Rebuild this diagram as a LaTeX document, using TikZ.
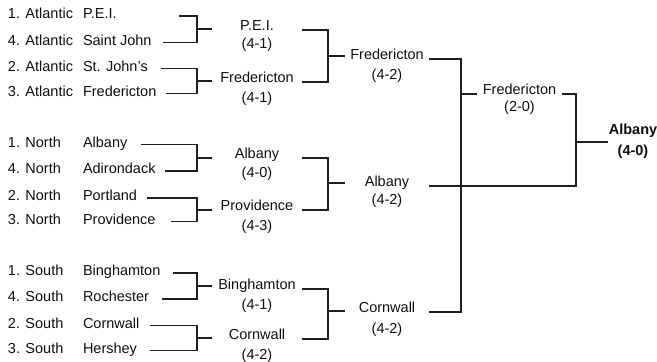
\documentclass[tikz,border=0pt]{standalone}
\usepackage{fontspec}
\setmainfont{Liberation Sans}
\definecolor{LineClr}{RGB}{30,30,30}
\definecolor{TextClr}{RGB}{15,15,15}

\begin{document}
\begin{tikzpicture}[x=1pt,y=-1pt,
  every node/.style={inner sep=0pt,outer sep=0pt,text=TextClr,font=\fontsize{14.5}{17}\selectfont},
  seed/.style={anchor=mid west},
  team/.style={anchor=mid west},
  win/.style={anchor=base,minimum width=#1},
  score/.style={anchor=base},
  bracket/.style={line width=1.2pt,color=LineClr}]
\useasboundingbox (0,0) rectangle (657,362);

% seeds
\node[seed] (sa1) at (8,16) {1. Atlantic};
\node[seed] (sa4) at (8,42.5) {4. Atlantic};
\node[seed] (sa2) at (8,68.5) {2. Atlantic};
\node[seed] (sa3) at (8,93.5) {3. Atlantic};
\node[seed] (sn1) at (8,144.5) {1. North};
\node[seed] (sn4) at (8,171) {4. North};
\node[seed] (sn2) at (8,198) {2. North};
\node[seed] (sn3) at (8,221.5) {3. North};
\node[seed] (ss1) at (8,273) {1. South};
\node[seed] (ss4) at (8,299) {4. South};
\node[seed] (ss2) at (8,325.5) {2. South};
\node[seed] (ss3) at (8,350.5) {3. South};

% teams
\node[team] (a1) at (83,16) {P.E.I.};
\node[team] (a4) at (83,42.5) {Saint John};
\node[team] (a2) at (83,68.5) {St. John’s};
\node[team] (a3) at (83,93.5) {Fredericton};
\node[team] (n1) at (83,144.5) {Albany};
\node[team] (n4) at (83,171) {Adirondack};
\node[team] (n2) at (83,198) {Portland};
\node[team] (n3) at (83,221.5) {Providence};
\node[team] (s1) at (83,273) {Binghamton};
\node[team] (s4) at (83,299) {Rochester};
\node[team] (s2) at (83,325.5) {Cornwall};
\node[team] (s3) at (83,350.5) {Hershey};

% division semifinals
\node[win=90] (w1) at (257,30) {P.E.I.};
\node[score] (w1s) at (257,48) {(4-1)};
\node[win=90] (w2) at (257,82) {Fredericton};
\node[score] (w2s) at (257,102) {(4-1)};
\node[win=90] (w3) at (257,158) {Albany};
\node[score] (w3s) at (257,177) {(4-0)};
\node[win=90] (w4) at (257,210) {Providence};
\node[score] (w4s) at (257,230) {(4-3)};
\node[win=90] (w5) at (257,289) {Binghamton};
\node[score] (w5s) at (257,309) {(4-1)};
\node[win=90] (w6) at (257,339) {Cornwall};
\node[score] (w6s) at (257,359) {(4-2)};

% division finals
\node[win=84] (v1) at (387,59) {Fredericton};
\node[score] (v1s) at (387,79) {(4-2)};
\node[win=84] (v2) at (387,186) {Albany};
\node[score] (v2s) at (387,204) {(4-2)};
\node[win=84] (v3) at (387,312) {Cornwall};
\node[score] (v3s) at (387,333) {(4-2)};

% semifinal
\node[win=85] (u1) at (519.5,94) {Fredericton};
\node[score] (u1s) at (519.5,111) {(2-0)};

% final
\node[win=50,font=\fontsize{14.5}{17}\selectfont\bfseries] (fin) at (633,134) {Albany};
\node[score,font=\fontsize{14.5}{17}\selectfont\bfseries] (fins) at (633,155) {(4-0)};

\coordinate (j1) at (197,29);
\coordinate (j2) at (197,81);
\coordinate (j3) at (197,158);
\coordinate (j4) at (197,210);
\coordinate (j5) at (197,286);
\coordinate (j6) at (197,338);
\coordinate (k1) at (328,56);
\coordinate (k2) at (328,183);
\coordinate (k3) at (328,311);
\coordinate (m1) at (461,94);
\coordinate (f1) at (576,142);

% round 1
\draw[bracket,shorten <=62pt,shorten >=11pt] (a1.mid east) -| (j1) |- (a4.mid east);
\draw[bracket,shorten <=13pt,shorten >=10pt] (a2.mid east) -| (j2) |- (a3.mid east);
\draw[bracket,shorten <=14pt,shorten >=9pt] (n1.mid east) -| (j3) |- (n4.mid east);
\draw[bracket,shorten <=10pt,shorten >=15pt] (n2.mid east) -| (j4) |- (n3.mid east);
\draw[bracket,shorten <=13pt,shorten >=13pt] (s1.mid east) -| (j5) |- (s4.mid east);
\draw[bracket,shorten <=11pt,shorten >=13pt] (s2.mid east) -| (j6) |- (s3.mid east);
\draw[bracket] (j1) -- (j1 -| w1.west);
\draw[bracket] (j2) -- (j2 -| w2.west);
\draw[bracket] (j3) -- (j3 -| w3.west);
\draw[bracket] (j4) -- (j4 -| w4.west);
\draw[bracket] (j5) -- (j5 -| w5.west);
\draw[bracket] (j6) -- (j6 -| w6.west);

% round 2
\draw[bracket] (w1.base east) -| (k1) |- (w2.base east);
\draw[bracket] (w3.base east) -| (k2) |- (w4.base east);
\draw[bracket] (w5.base east) -| (k3) |- (w6.base east);
\draw[bracket] (k1) -- (k1 -| v1.west);
\draw[bracket] (k2) -- (k2 -| v2.west);
\draw[bracket] (k3) -- (k3 -| v3.west);

% round 3 and final
\draw[bracket] (v1.base east) -| (m1) |- (v3.base east);
\draw[bracket] (m1) -- (m1 -| u1.west);
\draw[bracket] (u1.base east) -| (f1) |- (v2.base east);
\draw[bracket] (f1) -- (f1 -| fin.west);

\end{tikzpicture}
\end{document}
